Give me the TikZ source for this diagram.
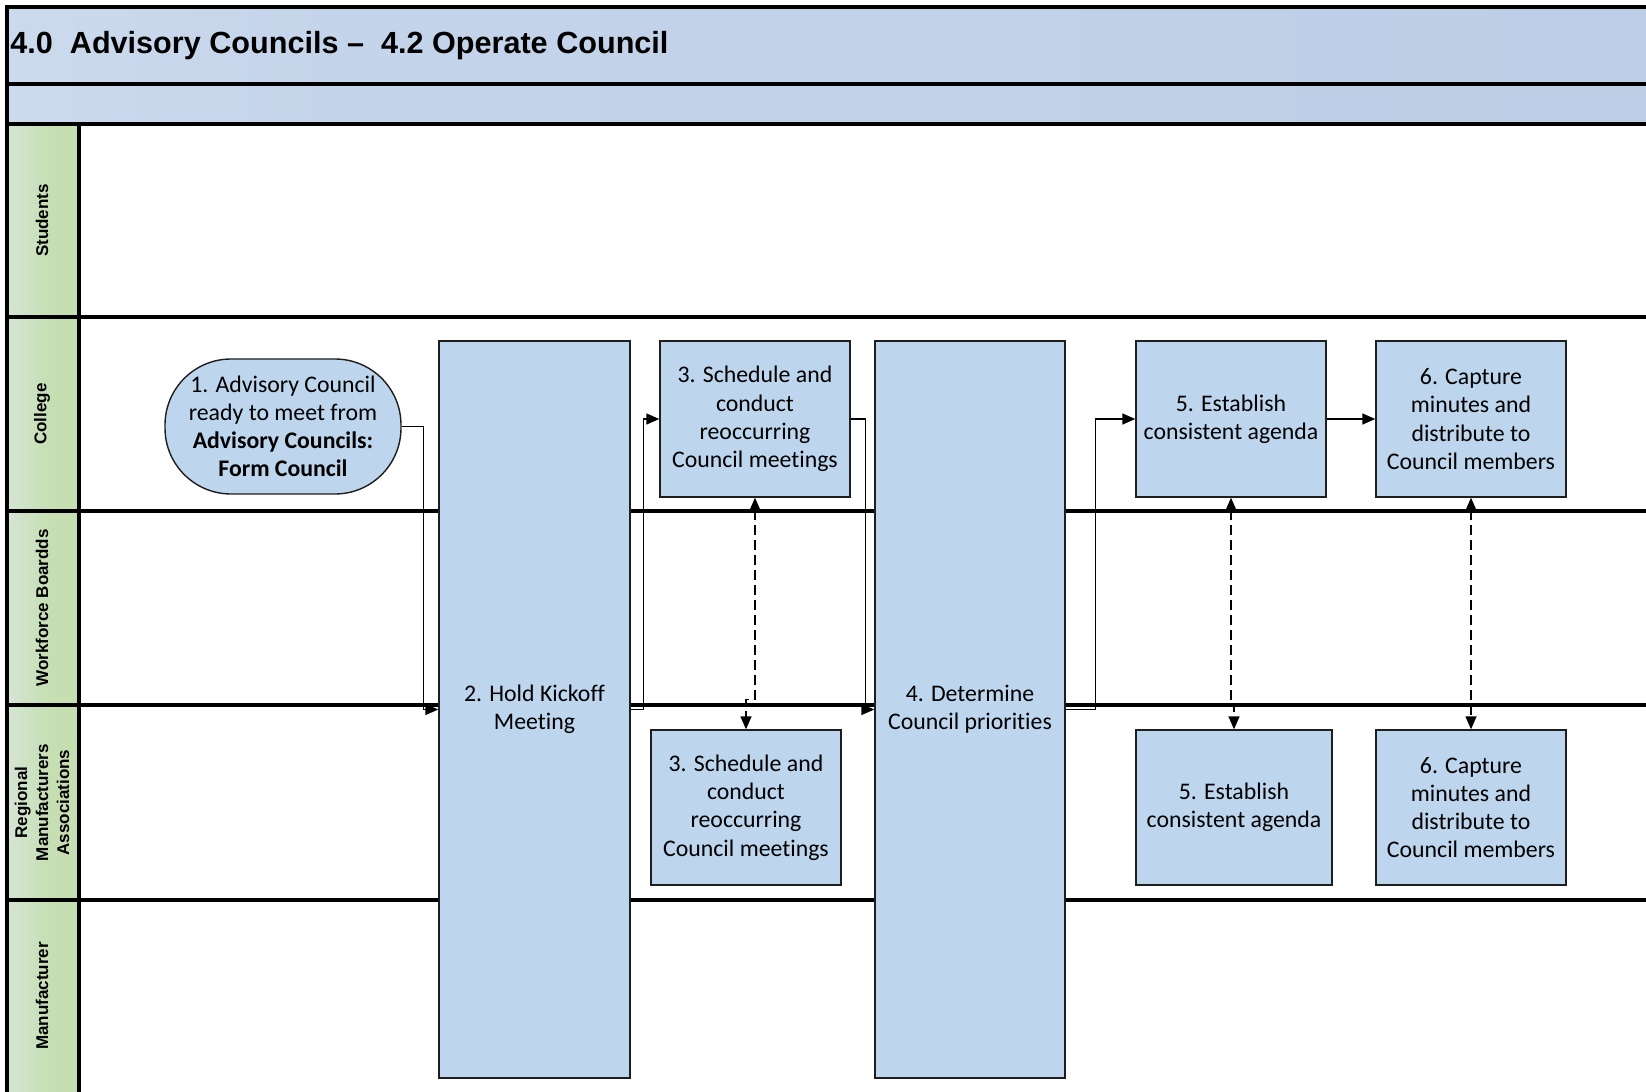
\documentclass[tikz,border=0pt]{standalone}
\usepackage{fontspec}
\setmainfont{Carlito}[Ligatures=NoCommon]
\newfontfamily\arialfont{Liberation Sans}
\usetikzlibrary{arrows.meta}

\definecolor{boxfill}{RGB}{189,214,237}
\definecolor{boxline}{RGB}{30,30,30}
\definecolor{hdrlight}{RGB}{224,232,243}
\definecolor{hdrmid}{RGB}{196,212,234}
\definecolor{hdrdark}{RGB}{184,202,227}
\definecolor{lanelight}{RGB}{228,234,242}
\definecolor{lanegreen}{RGB}{197,223,178}

\pgfdeclarehorizontalshading{hdrshade}{100bp}{color(0bp)=(hdrlight); color(35bp)=(hdrmid); color(100bp)=(hdrdark)}
\pgfdeclarehorizontalshading{laneshade}{100bp}{color(0bp)=(lanelight); color(55bp)=(lanegreen); color(100bp)=(lanegreen)}

\newcommand\stepfont{\fontsize{11.9}{14.1}\selectfont}
\newcommand\lanefont{\arialfont\bfseries\fontsize{8.5}{10.5}\selectfont}
\newcommand\headfont{\arialfont\bfseries\fontsize{15.3}{18}\selectfont}

\begin{document}
\begin{tikzpicture}[x=0.5pt,y=-0.5pt,
  lane/.style={line width=2.2pt, black, line cap=rect},
  stepbox/.style={draw=boxline, line width=0.7pt, fill=boxfill, inner sep=0pt,
    align=center, font=\stepfont, minimum width=95pt, minimum height=78pt},
  tallbox/.style={stepbox, minimum height=368.5pt},
  flow/.style={line width=0.7pt, -{Triangle[length=6.5pt,width=5.5pt]}},
  link/.style={line width=0.7pt, dash pattern=on 5pt off 2.5pt,
    {Triangle[length=6.5pt,width=5.5pt]}-{Triangle[length=6.5pt,width=5.5pt]}},
  lanelabel/.style={rotate=90, align=center, font=\lanefont}
]
\useasboundingbox (0,0) rectangle (1646,1092);

% header bars and lane label cells
\shade[shading=hdrshade] (7,7) rectangle (1646,84);
\shade[shading=hdrshade] (7,84) rectangle (1646,124);
\foreach \a/\b in {124/317,317/511,511/705,705/900,900/1092}
  \shade[shading=laneshade] (7,\a) rectangle (79,\b);

% frame and lane separators
\draw[lane, line join=miter] (1646,7) -- (7,7) -- (7,1092);
\draw[lane] (7,84) -- (1646,84);
\draw[lane] (7,124) -- (1646,124);
\foreach \y in {317,511,705,900}
  \draw[lane] (7,\y) -- (1646,\y);
\draw[lane] (79,124) -- (79,1092);

% titles
\node[anchor=west, font=\headfont, inner sep=0pt] (title) at (10,46)
  {4.0~~Advisory Councils –~~4.2 Operate Council};
\node[lanelabel] (lstudents) at (42,220.5) {Students};
\node[lanelabel] (lcollege) at (42,414) {College};
\node[lanelabel] (lworkforce) at (42,608) {Workforce Boardds};
\node[lanelabel] (lregional) at (42,802.5) {Regional\\Manufacturers\\Associations};
\node[lanelabel] (lmanuf) at (42,996) {Manufacturer};

% process steps
\node[stepbox, rounded corners=33pt, minimum width=118pt, minimum height=67.5pt]
  (n1) at (283,426.5)
  {1. Advisory Council\\ready to meet from\\\textbf{Advisory Councils:}\\\textbf{Form Council}};
\node[tallbox, minimum width=95.5pt] (n2) at (534.5,709.5) {2. Hold Kickoff\\Meeting};
\node[stepbox] (n3a) at (755,419)
  {3. Schedule and\\conduct\\reoccurring\\Council meetings};
\node[stepbox, minimum height=77.5pt] (n3b) at (746,807.5)
  {3. Schedule and\\conduct\\reoccurring\\Council meetings};
\node[tallbox] (n4) at (970,709.5) {4. Determine\\Council priorities};
\node[stepbox] (n5a) at (1231,419) {5. Establish\\consistent agenda};
\node[stepbox] (n6a) at (1471,419)
  {6. Capture\\minutes and\\distribute to\\Council members};
\node[stepbox, minimum width=98pt, minimum height=77.5pt] (n5b) at (1234,807.5)
  {5. Establish\\consistent agenda};
\node[stepbox, minimum height=77.5pt] (n6b) at (1471,807.5)
  {6. Capture\\minutes and\\distribute to\\Council members};

% sequence flow
\draw[flow] (n1.east) -- ++(22,0) |- (n2.west);
\draw[flow] (n2.east) -- ++(13,0) |- (n3a.west);
\draw[flow] (n3a.east) -- ++(15,0) |- (n4.west);
\draw[flow] (n4.east) -- ++(30,0) |- (n5a.west);
\draw[flow] (n5a) -- (n6a);

% shared activities across lanes
\draw[link] (n3a.south) -- ++(0,202) -| (n3b.north);
\draw[link] (n5a.south) -- ++(0,206) -| (n5b.north);
\draw[link] (n6a.south) -- (n6b.north);
\end{tikzpicture}
\end{document}
